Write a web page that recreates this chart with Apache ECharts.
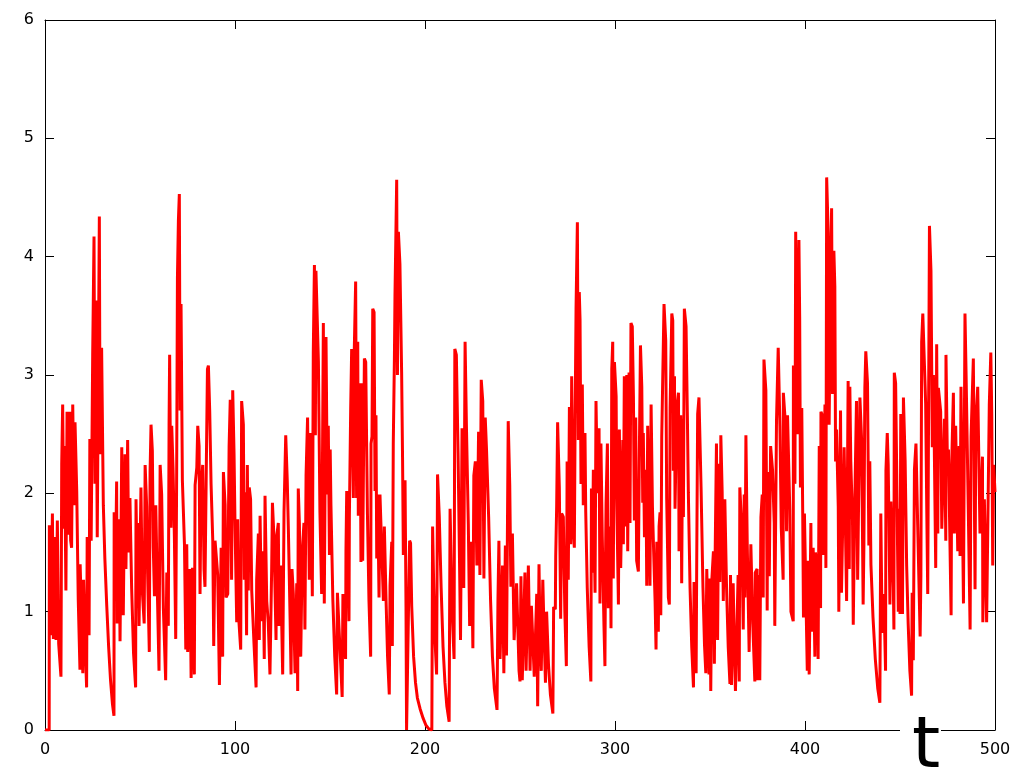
<!DOCTYPE html>
<html>
<head>
<meta charset="utf-8">
<script src="https://cdn.jsdelivr.net/npm/echarts@6/dist/echarts.min.js"></script>
<style>
html,body{margin:0;padding:0;background:#fff;}
#chart{width:1024px;height:768px;}
</style>
</head>
<body>
<div id="chart"></div>
<script>
// [t, value] pairs, split by time range
const seg000 = [[0,0],[2.2,0],[2.3,1.73],[3.0,0.8],[3.9,1.83],[4.4,0.77],[5.3,1.63],[5.8,0.76],[6.5,1.77],[7.2,0.73],[8.4,0.45],[8.8,2.25],[9.3,2.75],[9.9,1.7],[10.3,2.4],[11.0,1.18],[11.6,2.69],[12.3,1.65],[13.0,2.69],[13.5,1.6],[14.0,1.54],[14.6,2.75],[15.3,1.9],[15.8,2.6],[16.7,2.02],[17.5,1.1],[18.4,0.51],[18.5,1.4],[19.3,0.9],[19.9,0.48],[20.3,1.27],[21.2,0.7],[21.9,0.36],[22.2,1.63],[23.2,0.8],[23.6,2.46],[24.3,1.6],[25.1,3.17],[25.8,4.17],[26.3,2.08],[26.8,3.63],[27.5,1.63],[28.6,4.34],[29.0,2.33],[29.8,3.23],[30.7,1.9],[31.5,1.45],[32.5,1.05],[33.5,0.7],[34.5,0.42],[35.5,0.22],[36.3,0.12],[36.4,1.84],[37.0,1.2],[37.7,2.1],[38.0,0.9],[38.6,1.78],[39.0,1.63],[39.5,0.75],[40.4,2.39],[41.2,0.97],[42.1,2.33],[42.6,1.36],[43.5,2.45],[44.0,1.5],[44.7,1.96],[45.6,1.2],[46.6,0.65],[47.7,0.36],[47.9,1.95],[48.5,1.3],[48.8,1.75],[49.5,0.88],[50.5,2.05],[51.2,1.18],[52.2,0.9],[52.7,2.24],[53.5,1.89],[54.0,1.33],[54.9,0.66],[55.3,2.18],[55.8,2.58],[56.5,2.36],[57.0,1.54],[57.6,1.13],[58.3,1.9],[59.2,1.12],[60.0,0.5],[60.6,2.24],[61.4,1.99],[62.3,1.03],[63.5,0.42],[64.1,1.33],[64.9,0.88],[65.3,2.58],[65.6,3.17],[66.3,1.71],[66.7,2.57],[67.4,2.2],[68.1,1.63],[68.8,0.77],[69.3,2.18],[69.7,3.82],[70.2,4.3],[70.7,4.53],[71.1,2.7],[71.6,3.6],[72.3,2.11],[73.4,1.57],[74.1,0.68],[74.6,1.57],[75.1,0.66],[76.3,1.36],[76.9,0.44],[77.6,1.37],[78.6,0.47],[79.0,2.07],[79.9,2.22],[80.4,2.57],[81.1,2.4],[81.6,1.15],[82.1,2.02],[83.0,2.24],[83.7,1.36],[84.2,1.21],[84.8,2.08],[85.5,3.05],[86.0,3.08],[86.7,2.69],[87.4,2.08],[88.3,1.6],[88.8,0.71],[89.5,1.6],[90.9,1.31],[91.8,0.38],[92.7,1.54],[93.5,0.62],[93.9,2.18],[94.8,1.9],[95.3,1.12],[96.2,1.15],[96.9,2.4],[97.5,2.79],[98.2,1.27],[98.8,2.87],[99.5,2.33]];
const seg100 = [[100.0,1.75],[100.9,0.91],[101.4,1.78],[102.1,0.91],[103.0,0.68],[103.5,2.78],[104.4,2.58],[104.9,1.27],[105.3,2.01],[106.1,0.8],[106.5,2.24],[107.0,1.18],[107.5,2.05],[108.2,1.95],[108.8,1.18],[110.0,0.73],[111.1,0.36],[111.4,1.27],[112.3,1.66],[112.8,0.76],[113.2,1.81],[114.0,0.92],[114.6,1.51],[115.4,0.6],[115.8,1.98],[116.7,1.09],[117.5,0.91],[118.4,0.47],[119.3,1.36],[119.7,1.92],[120.5,1.63],[121.6,0.76],[121.9,1.63],[122.8,1.75],[123.2,0.88],[124.0,1.39],[125.1,0.47],[125.8,1.84],[126.7,2.49],[127.5,2.11],[128.1,1.69],[129.0,0.94],[129.5,0.47],[130.0,1.36],[130.7,1.15],[131.6,0.48],[132.5,1.24],[133.0,0.33],[133.3,2.04],[133.9,1.74],[134.6,0.62],[135.4,1.51],[136.3,1.75],[136.8,0.85],[137.4,2.15],[138.2,2.64],[139.1,1.27],[139.8,2.51],[140.7,1.13],[141.2,3.19],[141.8,3.93],[142.3,2.49],[142.6,3.88],[143.3,3.87],[143.9,3.11],[144.7,1.84],[145.6,1.15],[146.5,3.44],[147.0,1.07],[147.9,3.32],[148.6,1.99],[149.1,2.57],[149.7,1.48],[150.1,2.37],[150.5,1.9],[151.5,1.1],[152.5,0.62],[153.5,0.3],[153.9,1.16],[154.6,1.15],[155.5,0.6],[156.4,0.28],[156.8,1.15],[157.6,1.15],[158.2,0.6],[158.4,1.51],[158.8,2.02],[160.0,0.92],[160.2,1.81],[160.9,2.73],[161.4,3.22],[162.3,1.96],[162.8,3.23],[163.5,3.79],[164.0,1.96],[164.6,3.28],[164.9,1.81],[165.8,2.93],[166.3,1.42],[166.7,2.93],[167.2,1.43],[168.1,3.14],[168.8,3.11],[169.7,1.83],[170.5,1.1],[171.4,0.62],[171.6,2.42],[172.1,2.48],[172.5,3.56],[173.2,3.53],[173.7,2.02],[174.2,2.66],[174.6,1.45],[175.1,1.99],[175.8,1.12],[176.3,1.99],[177.2,1.99],[178.1,1.09],[178.6,1.72],[179.5,1.1],[180.3,0.62],[181.2,0.3],[181.6,1.22],[182.5,1.59],[182.8,0.71],[183.3,2.42],[183.9,3.14],[184.2,3.67],[185.1,4.65],[185.5,3.0],[186.0,4.21],[186.8,3.94],[187.7,3.02],[188.2,2.28],[188.6,1.48],[189.5,2.11],[190.0,1.04],[190.3,0],[191.0,0],[191.4,1.1],[191.9,1.6],[192.4,1.58],[193.0,1.05],[194.0,0.62],[195.0,0.4],[196.0,0.27],[197.4,0.18],[199.0,0.1]];
const seg200 = [[200.5,0.04],[202.0,0.01],[203.6,0],[204.0,1.72],[204.6,1.2],[205.3,0.75],[206.1,0.47],[206.6,2.16],[207.5,1.81],[208.5,1.2],[209.5,0.7],[210.5,0.4],[211.5,0.2],[212.7,0.07],[213.2,1.87],[214.3,1.0],[215.3,0.6],[215.7,3.22],[216.5,3.17],[217.4,2.34],[218.0,1.63],[218.7,0.76],[219.5,2.55],[220.4,1.2],[221.1,3.28],[221.8,2.57],[222.8,1.74],[223.5,0.88],[224.4,1.59],[225.2,0.69],[225.7,2.15],[226.5,2.27],[227.3,1.39],[228.2,2.52],[228.9,1.31],[229.6,2.96],[230.4,2.78],[231.0,1.28],[231.7,2.64],[232.4,2.36],[233.5,1.8],[234.5,1.1],[235.5,0.62],[236.5,0.35],[237.9,0.17],[238.4,1.1],[238.9,1.6],[239.5,0.6],[240.8,1.39],[241.5,0.48],[242.3,1.56],[242.9,0.63],[243.8,2.61],[244.6,2.07],[245.2,1.21],[246.0,1.66],[246.9,0.76],[248.2,1.24],[249.5,0.5],[250.0,0.41],[250.5,1.3],[251.2,0.42],[252.6,1.33],[253.2,0.5],[254.4,1.39],[255.3,0.5],[256.0,1.05],[257.5,0.45],[258.8,1.15],[259.3,0.2],[260.0,1.4],[260.6,0.75],[261.2,0.5],[262.0,1.27],[262.7,0.8],[263.4,0.4],[264.0,1.0],[265.0,0.55],[266.0,0.3],[267.3,0.14],[267.7,1.04],[268.6,1.02],[268.8,1.47],[269.3,1.89],[269.8,2.6],[270.7,2.05],[271.4,0.94],[271.9,1.83],[272.8,1.8],[273.6,1.0],[274.4,0.54],[274.8,2.27],[275.4,1.27],[276.0,2.73],[276.7,1.57],[277.2,2.99],[278.0,1.7],[278.6,1.54],[279.0,2.6],[279.5,3.56],[280.2,4.29],[280.7,2.45],[281.2,3.7],[281.6,3.47],[282.1,2.08],[282.8,2.92],[283.3,1.9],[284.2,2.51],[284.6,1.84],[285.4,1.2],[286.4,0.7],[287.3,0.41],[287.6,2.04],[288.1,1.33],[288.6,2.2],[289.5,1.16],[290.0,2.78],[290.8,2.0],[291.6,2.55],[292.1,1.07],[292.6,2.42],[293.3,1.63],[294.2,0.88],[294.7,0.54],[295.0,1.42],[295.3,1.92],[296.0,2.42],[296.5,1.03],[297.0,1.68],[297.5,1.72],[297.9,0.86],[298.3,3.05],[298.8,3.28],[299.1,1.28],[299.7,3.11]];
const seg300 = [[300.6,2.82],[300.9,1.96],[301.8,1.06],[302.3,2.54],[303.0,1.37],[304.1,2.45],[304.4,1.57],[304.9,2.99],[305.6,1.72],[306.2,3.0],[306.7,1.51],[307.4,3.02],[307.9,1.75],[308.4,3.44],[309.1,3.41],[309.7,2.81],[310.2,1.77],[310.9,2.64],[311.4,1.43],[312.3,1.34],[312.8,2.31],[313.4,3.25],[314.1,2.9],[314.6,1.92],[314.9,2.51],[315.5,1.63],[316.3,2.2],[316.7,1.22],[317.2,2.57],[318.1,2.57],[318.4,1.22],[319.0,2.75],[319.7,1.89],[320.2,1.59],[321.1,1.09],[321.6,0.68],[322.0,1.59],[322.8,0.83],[323.2,1.72],[323.7,1.84],[324.1,0.97],[324.6,2.48],[325.1,2.49],[325.8,3.6],[326.7,3.29],[327.2,1.96],[328.1,1.12],[328.6,1.06],[329.0,2.72],[329.9,3.52],[330.4,3.46],[330.7,2.19],[331.3,2.99],[331.6,1.87],[332.5,2.72],[333.4,2.85],[333.7,1.51],[334.6,2.66],[335.1,1.24],[335.6,2.63],[336.0,1.8],[336.5,3.56],[337.4,3.41],[338.1,2.64],[338.6,2.01],[339.5,1.2],[340.4,0.7],[341.3,0.36],[341.6,1.25],[342.3,1.25],[342.7,0.48],[343.0,1.39],[343.5,2.67],[344.2,2.81],[345.3,2.05],[346.3,1.2],[347.1,0.72],[347.8,0.48],[348.3,1.36],[349.5,0.47],[350.0,1.28],[350.4,0.33],[350.9,1.25],[351.8,1.51],[352.3,0.56],[352.7,1.47],[353.4,2.42],[354.0,0.76],[354.7,2.25],[355.2,1.25],[355.7,2.49],[356.4,2.01],[357.0,1.09],[357.8,1.95],[358.7,1.21],[359.6,0.7],[360.5,0.39],[360.8,1.31],[361.3,0.38],[362.2,1.24],[362.8,0.7],[363.4,0.33],[364.8,1.31],[365.4,0.41],[365.7,2.05],[366.6,1.74],[367.5,0.85],[368.0,1.99],[368.4,1.12],[368.9,2.49],[369.6,1.57],[370.6,0.66],[371.5,1.57],[372.5,0.9],[373.6,0.41],[373.8,1.33],[374.8,1.36],[375.0,0.42],[375.9,1.31],[376.2,0.42],[376.8,1.8],[377.5,1.99],[378.0,1.12],[378.4,3.13],[379.4,2.87],[380.1,1.01],[380.3,2.18],[381.2,1.3],[381.9,2.4],[382.9,2.2],[383.8,1.75],[384.1,0.88],[385.0,2.61],[385.9,3.23],[386.8,2.57],[387.5,1.71],[388.5,1.27],[388.6,2.85],[389.4,2.66],[390.3,1.68],[390.8,2.66],[392.0,1.86],[392.6,1.0],[393.8,0.92],[393.9,3.08],[394.7,2.08],[395.1,4.21],[396.0,2.5],[396.8,4.14],[397.2,3.49],[397.6,2.05],[398.3,2.72],[398.8,1.83],[399.2,0.95],[399.7,1.83]];
const seg400 = [[401.2,0.5],[401.7,1.43],[402.2,0.47],[403.1,1.75],[403.4,0.83],[404.3,1.54],[405.2,0.62],[405.5,1.5],[406.4,1.37],[406.9,0.6],[407.5,2.4],[408.2,1.03],[408.4,2.69],[409.1,2.66],[409.6,1.48],[410.5,2.75],[411.0,1.37],[411.4,4.67],[412.2,4.2],[412.7,2.58],[413.4,3.69],[414.0,4.41],[414.5,2.84],[415.2,4.05],[415.7,3.75],[416.1,2.27],[416.6,2.54],[417.5,1.89],[417.8,1.0],[418.7,2.7],[419.2,1.16],[420.6,2.39],[421.9,1.09],[422.7,2.95],[423.3,1.36],[423.6,2.9],[424.1,2.27],[425.0,1.77],[425.4,0.89],[426.2,1.92],[427.1,2.78],[427.7,1.27],[428.9,2.81],[429.8,2.45],[430.6,1.06],[431.0,1.56],[431.5,2.89],[432.0,3.2],[432.9,2.93],[433.6,1.56],[434.1,2.27],[434.7,1.4],[435.8,0.95],[437.0,0.6],[438.3,0.35],[439.4,0.23],[439.9,1.83],[440.6,0.82],[441.5,1.15],[442.4,0.5],[442.6,2.19],[443.3,2.51],[443.8,2.24],[444.7,1.06],[445.2,1.93],[446.5,1.2],[446.8,0.85],[447.0,3.02],[447.7,2.93],[448.2,2.27],[449.1,1.0],[449.6,1.87],[450.0,0.98],[450.4,2.67],[450.9,2.2],[451.3,0.98],[451.8,2.81],[452.7,2.28],[453.5,1.39],[454.3,0.9],[455.2,0.5],[456.1,0.29],[456.4,1.16],[457.0,0.59],[457.6,2.2],[458.4,2.42],[459.3,1.74],[460.6,0.79],[461.0,1.31],[461.4,3.28],[462.0,3.52],[463.5,2.76],[464.1,1.84],[464.6,1.15],[465.5,4.26],[466.3,3.88],[467.0,2.39],[467.6,3.0],[468.8,1.37],[469.3,3.26],[469.9,1.66],[470.2,2.89],[471.4,2.69],[472.0,1.7],[473.4,2.63],[474.1,1.6],[474.2,3.17],[475.0,2.2],[475.5,2.37],[476.9,0.97],[477.2,2.24],[478.1,2.85],[478.6,1.66],[479.3,2.57],[480.4,1.51],[481.1,2.4],[481.6,1.47],[482.1,2.9],[483.4,1.07],[484.2,3.52],[484.8,2.99],[486.0,1.8],[486.9,0.85],[487.4,2.48],[488.6,3.14],[489.5,1.19],[489.9,2.6],[490.9,2.9],[492.1,1.66],[493.4,2.31],[493.6,0.91],[494.4,1.95],[495.6,0.91],[497.0,2.75],[497.8,3.19],[498.3,2.66],[498.8,1.39],[499.3,2.24],[500.0,2.01]];

const xTicks = [0, 100, 200, 300, 400, 500];
const yTicks = [0, 1, 2, 3, 4, 5, 6];
const xLabel = 't';

const series = [].concat(seg000, seg100, seg200, seg300, seg400);

const FONT = 'DejaVu Sans';
const chart = echarts.init(document.getElementById('chart'), null, {renderer: 'canvas'});

function axisCommon(showLabel, pos) {
  return {
    type: 'value',
    position: pos,
    axisLine: {show: true, onZero: false, lineStyle: {color: '#000', width: 1}},
    axisTick: {show: true, inside: true, length: 9, lineStyle: {color: '#000', width: 1}},
    axisLabel: {show: showLabel, color: '#000', fontSize: 16, fontFamily: FONT},
    splitLine: {show: false}
  };
}

const xb = axisCommon(true, 'bottom');
xb.min = xTicks[0]; xb.max = xTicks[xTicks.length - 1]; xb.interval = xTicks[1] - xTicks[0];
xb.axisLabel.margin = 12;
const xt = axisCommon(false, 'top');
xt.min = xb.min; xt.max = xb.max; xt.interval = xb.interval;

const yl = axisCommon(true, 'left');
yl.min = yTicks[0]; yl.max = yTicks[yTicks.length - 1]; yl.interval = yTicks[1] - yTicks[0];
yl.axisLabel.margin = 11;
const yr = axisCommon(false, 'right');
yr.min = yl.min; yr.max = yl.max; yr.interval = yl.interval;

chart.setOption({
  backgroundColor: '#fff',
  animation: false,
  grid: {left: 45, right: 29, top: 20, bottom: 38, containLabel: false},
  xAxis: [xb, xt],
  yAxis: [yl, yr],
  series: [{
    type: 'line',
    xAxisIndex: 0,
    yAxisIndex: 0,
    data: series,
    showSymbol: false,
    symbol: 'none',
    lineStyle: {color: '#ff0000', width: 3},
    clip: true,
    z: 3
  }],
  graphic: [
    {type: 'rect', left: 900, top: 712, z: 100,
     shape: {width: 41, height: 56}, style: {fill: '#fff'}},
    {type: 'text', z: 101, x: 926, y: 784,
     style: {text: xLabel, fill: '#000', font: '72px "DejaVu Sans"', textAlign: 'center', textVerticalAlign: 'bottom'}}
  ]
});
</script>
</body>
</html>
